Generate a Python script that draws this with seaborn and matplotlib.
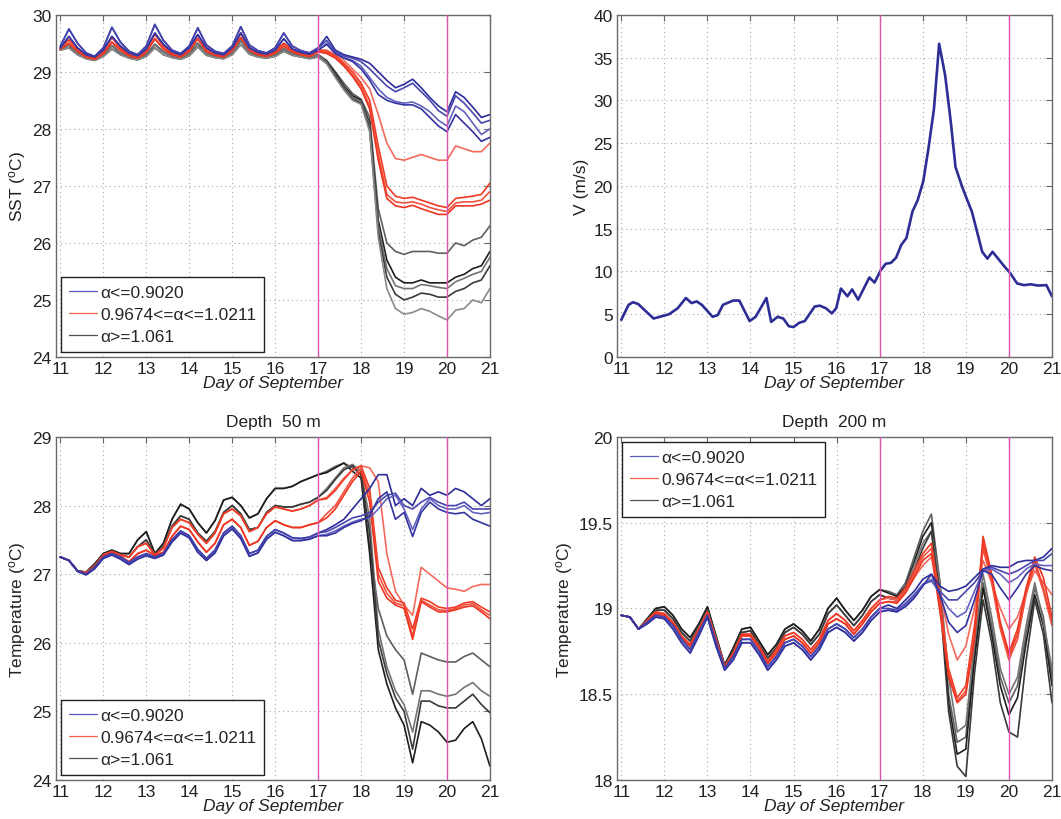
import numpy as np
import pandas as pd
import matplotlib
matplotlib.use("Agg")
import matplotlib.pyplot as plt
from matplotlib.lines import Line2D
from matplotlib.ticker import FuncFormatter
import seaborn as sns

# sample times (day of September): common part before the storm, members after
PRE_DAYS = np.linspace(11.0, 17.0, 31)
POST_DAYS = np.linspace(17.2, 21.0, 20)

LEGEND_LABELS = ["α<=0.9020", "0.9674<=α<=1.0211", "α>=1.061"]

# ---------------- SST ----------------
SST_BLUE_PRE_HI = [29.45, 29.75, 29.50, 29.33, 29.27, 29.42, 29.78, 29.52, 29.36, 29.30,
                   29.45, 29.83, 29.55, 29.38, 29.32, 29.45, 29.77, 29.47, 29.36, 29.32,
                   29.45, 29.79, 29.47, 29.37, 29.33, 29.42, 29.68, 29.45, 29.37, 29.33, 29.42]
SST_BLUE_PRE_LO = [29.42, 29.62, 29.42, 29.30, 29.26, 29.38, 29.62, 29.45, 29.33, 29.28,
                   29.40, 29.68, 29.48, 29.35, 29.30, 29.42, 29.65, 29.42, 29.33, 29.30,
                   29.42, 29.68, 29.42, 29.34, 29.31, 29.38, 29.58, 29.40, 29.34, 29.31, 29.38]
SST_RED_PRE_HI = [29.42, 29.56, 29.40, 29.28, 29.24, 29.35, 29.60, 29.42, 29.30, 29.26,
                  29.38, 29.66, 29.45, 29.32, 29.28, 29.40, 29.65, 29.40, 29.31, 29.28,
                  29.40, 29.68, 29.42, 29.32, 29.29, 29.36, 29.50, 29.38, 29.32, 29.29, 29.38]
SST_RED_PRE_LO = [29.40, 29.50, 29.36, 29.26, 29.22, 29.32, 29.52, 29.38, 29.28, 29.24,
                  29.34, 29.58, 29.40, 29.30, 29.26, 29.36, 29.58, 29.36, 29.29, 29.26,
                  29.37, 29.60, 29.38, 29.30, 29.27, 29.33, 29.45, 29.35, 29.30, 29.27, 29.35]
SST_BLACK_PRE_HI = [29.40, 29.47, 29.32, 29.25, 29.22, 29.30, 29.46, 29.33, 29.26, 29.23,
                    29.30, 29.48, 29.35, 29.28, 29.25, 29.32, 29.50, 29.32, 29.27, 29.25,
                    29.33, 29.55, 29.35, 29.28, 29.26, 29.30, 29.40, 29.32, 29.28, 29.25, 29.30]
SST_BLACK_PRE_LO = [29.38, 29.42, 29.30, 29.23, 29.20, 29.27, 29.40, 29.30, 29.24, 29.21,
                    29.27, 29.42, 29.30, 29.25, 29.22, 29.28, 29.44, 29.29, 29.25, 29.23,
                    29.30, 29.48, 29.31, 29.26, 29.24, 29.27, 29.36, 29.29, 29.26, 29.23, 29.26]
SST_BLUE_POST = [
    [29.62, 29.38, 29.30, 29.26, 29.22, 29.15, 29.00, 28.85, 28.72, 28.78,
     28.87, 28.72, 28.55, 28.40, 28.30, 28.65, 28.55, 28.38, 28.20, 28.25],
    [29.55, 29.35, 29.28, 29.24, 29.18, 29.05, 28.90, 28.75, 28.65, 28.72,
     28.80, 28.65, 28.50, 28.32, 28.22, 28.58, 28.45, 28.28, 28.10, 28.15],
    [29.50, 29.33, 29.25, 29.20, 29.10, 28.90, 28.70, 28.55, 28.48, 28.45,
     28.47, 28.40, 28.30, 28.15, 28.05, 28.40, 28.30, 28.10, 27.90, 28.00],
    [29.48, 29.32, 29.24, 29.18, 29.05, 28.85, 28.60, 28.50, 28.45, 28.42,
     28.42, 28.35, 28.20, 28.05, 27.95, 28.25, 28.10, 27.95, 27.78, 27.85],
]
SST_RED_POST = [
    [29.38, 29.30, 29.20, 29.05, 28.90, 28.70, 28.25, 27.75, 27.48, 27.45,
     27.50, 27.55, 27.50, 27.45, 27.45, 27.70, 27.65, 27.60, 27.60, 27.75],
    [29.36, 29.28, 29.15, 29.00, 28.80, 28.50, 27.70, 27.00, 26.82, 26.78,
     26.80, 26.75, 26.70, 26.65, 26.62, 26.78, 26.80, 26.82, 26.85, 27.05],
    [29.34, 29.25, 29.12, 28.95, 28.75, 28.40, 27.55, 26.85, 26.72, 26.70,
     26.72, 26.68, 26.62, 26.58, 26.55, 26.70, 26.72, 26.72, 26.75, 26.90],
    [29.32, 29.24, 29.10, 28.92, 28.70, 28.35, 27.45, 26.78, 26.65, 26.62,
     26.66, 26.60, 26.55, 26.50, 26.50, 26.65, 26.65, 26.65, 26.68, 26.75],
]
SST_BLACK_POST = [
    [29.20, 29.00, 28.80, 28.62, 28.52, 28.20, 26.60, 26.00, 25.85, 25.80,
     25.85, 25.85, 25.85, 25.82, 25.82, 26.00, 25.95, 26.05, 26.10, 26.30],
    [29.18, 28.98, 28.75, 28.58, 28.50, 28.10, 26.40, 25.70, 25.40, 25.30,
     25.30, 25.35, 25.30, 25.30, 25.30, 25.40, 25.45, 25.55, 25.60, 25.85],
    [29.17, 28.95, 28.72, 28.55, 28.48, 28.05, 26.30, 25.55, 25.25, 25.20,
     25.20, 25.27, 25.25, 25.22, 25.20, 25.32, 25.38, 25.45, 25.50, 25.75],
    [29.15, 28.93, 28.70, 28.52, 28.45, 28.00, 26.20, 25.40, 25.10, 25.00,
     25.05, 25.12, 25.10, 25.05, 25.05, 25.15, 25.20, 25.30, 25.35, 25.60],
    [29.14, 28.90, 28.68, 28.50, 28.43, 27.95, 26.10, 25.20, 24.85, 24.75,
     24.78, 24.85, 24.80, 24.72, 24.65, 24.82, 24.85, 25.00, 24.95, 25.20],
]

# ---------------- wind speed ----------------
V_DAYS = [11.0, 11.17, 11.27, 11.39, 11.75, 12.11, 12.31, 12.5, 12.63, 12.75, 12.87,
          13.12, 13.24, 13.36, 13.6, 13.74, 13.98, 14.12, 14.37, 14.48, 14.63, 14.76,
          14.89, 15.0, 15.13, 15.26, 15.49, 15.61, 15.75, 15.89, 15.99, 16.1, 16.25,
          16.36, 16.5, 16.76, 16.88, 17.02, 17.14, 17.26, 17.38, 17.5, 17.62, 17.76,
          17.88, 18.01, 18.13, 18.26, 18.38, 18.52, 18.65, 18.76, 18.9, 19.02, 19.14,
          19.38, 19.5, 19.62, 19.86, 20.03, 20.19, 20.35, 20.51, 20.67, 20.87, 21.0]
V_SPEED = [4.35, 6.1, 6.4, 6.2, 4.5, 5.0, 5.7, 6.9, 6.3, 6.5, 6.1,
           4.7, 4.9, 6.1, 6.6, 6.6, 4.2, 4.7, 6.9, 4.1, 4.7, 4.5,
           3.6, 3.5, 4.0, 4.2, 5.9, 6.0, 5.7, 5.1, 5.7, 8.0, 7.1,
           7.9, 6.7, 9.3, 8.7, 10.1, 10.9, 11.0, 11.6, 13.1, 13.9, 17.0,
           18.3, 20.5, 24.3, 29.0, 36.6, 32.9, 27.5, 22.2, 20.1, 18.5, 17.0,
           12.3, 11.5, 12.3, 10.8, 9.8, 8.6, 8.4, 8.5, 8.35, 8.4, 7.1]

# ---------------- 50 m ----------------
M50_BLUE_PRE_HI = [27.25, 27.20, 27.05, 27.00, 27.10, 27.25, 27.30, 27.25, 27.17, 27.25,
                   27.30, 27.25, 27.30, 27.50, 27.63, 27.56, 27.36, 27.23, 27.35, 27.60,
                   27.70, 27.56, 27.30, 27.35, 27.55, 27.65, 27.60, 27.53, 27.52, 27.54, 27.60]
M50_BLUE_PRE_LO = [27.25, 27.20, 27.04, 26.99, 27.08, 27.23, 27.28, 27.22, 27.14, 27.22,
                   27.27, 27.23, 27.28, 27.47, 27.60, 27.53, 27.32, 27.20, 27.31, 27.56,
                   27.66, 27.52, 27.26, 27.31, 27.51, 27.61, 27.56, 27.49, 27.49, 27.51, 27.56]
M50_RED_PRE_HI = [27.25, 27.20, 27.05, 27.02, 27.12, 27.28, 27.33, 27.28, 27.25, 27.40,
                  27.45, 27.28, 27.38, 27.68, 27.80, 27.75, 27.58, 27.45, 27.60, 27.88,
                  27.95, 27.85, 27.62, 27.68, 27.88, 27.98, 27.95, 27.92, 27.95, 28.00, 28.08]
M50_RED_PRE_LO = [27.25, 27.20, 27.05, 27.00, 27.10, 27.26, 27.30, 27.26, 27.18, 27.30,
                  27.35, 27.27, 27.32, 27.55, 27.70, 27.65, 27.47, 27.32, 27.45, 27.72,
                  27.80, 27.68, 27.42, 27.48, 27.68, 27.78, 27.72, 27.68, 27.68, 27.72, 27.75]
M50_BLACK_PRE_HI = [27.25, 27.20, 27.05, 27.03, 27.15, 27.30, 27.35, 27.30, 27.30, 27.50,
                    27.62, 27.30, 27.45, 27.80, 28.02, 27.95, 27.75, 27.60, 27.78, 28.08,
                    28.12, 28.00, 27.82, 27.88, 28.10, 28.25, 28.25, 28.28, 28.35, 28.40, 28.45]
M50_BLACK_PRE_LO = [27.25, 27.20, 27.05, 27.02, 27.12, 27.28, 27.33, 27.28, 27.25, 27.40,
                    27.50, 27.28, 27.40, 27.70, 27.85, 27.80, 27.60, 27.48, 27.62, 27.90,
                    28.00, 27.88, 27.65, 27.68, 27.90, 28.00, 27.98, 27.98, 28.02, 28.05, 28.12]
M50_BLUE_POST = [
    [27.65, 27.72, 27.80, 27.95, 28.10, 28.25, 28.45, 28.45, 28.00, 28.10,
     28.00, 28.25, 28.15, 28.20, 28.15, 28.25, 28.20, 28.10, 28.00, 28.10],
    [27.62, 27.68, 27.75, 27.82, 27.85, 27.90, 28.05, 28.15, 28.18, 28.00,
     27.95, 28.05, 28.12, 28.05, 28.00, 28.00, 28.05, 27.95, 27.95, 27.95],
    [27.58, 27.63, 27.70, 27.76, 27.80, 27.82, 27.95, 28.10, 28.15, 27.95,
     27.65, 27.95, 28.10, 28.00, 27.95, 27.95, 28.00, 27.90, 27.88, 27.90],
    [27.56, 27.60, 27.68, 27.74, 27.78, 27.85, 28.10, 28.20, 27.80, 27.90,
     27.55, 27.90, 28.05, 27.95, 27.90, 27.88, 27.90, 27.80, 27.75, 27.70],
]
M50_RED_POST = [
    [28.12, 28.25, 28.40, 28.52, 28.58, 28.55, 28.35, 27.30, 26.75, 26.55,
     26.40, 27.10, 27.00, 26.90, 26.80, 26.78, 26.75, 26.82, 26.85, 26.85],
    [28.10, 28.22, 28.38, 28.52, 28.58, 28.25, 27.10, 26.80, 26.62, 26.58,
     26.20, 26.65, 26.60, 26.52, 26.50, 26.52, 26.58, 26.60, 26.52, 26.45],
    [27.88, 28.00, 28.20, 28.40, 28.55, 28.15, 27.00, 26.72, 26.58, 26.54,
     26.10, 26.62, 26.55, 26.48, 26.47, 26.50, 26.55, 26.57, 26.48, 26.40],
    [27.82, 27.95, 28.15, 28.35, 28.50, 28.05, 26.90, 26.65, 26.55, 26.50,
     26.05, 26.60, 26.52, 26.45, 26.45, 26.48, 26.52, 26.54, 26.45, 26.35],
]
M50_BLACK_POST = [
    [28.50, 28.57, 28.62, 28.55, 28.45, 27.40, 26.50, 26.10, 25.90, 25.75,
     25.25, 25.85, 25.80, 25.75, 25.72, 25.72, 25.80, 25.85, 25.75, 25.65],
    [28.48, 28.55, 28.62, 28.50, 28.40, 27.30, 25.90, 25.40, 25.05, 24.80,
     24.25, 24.85, 24.80, 24.70, 24.55, 24.58, 24.75, 24.85, 24.60, 24.20],
    [28.25, 28.40, 28.55, 28.60, 28.50, 27.80, 26.20, 25.65, 25.30, 25.10,
     24.70, 25.30, 25.30, 25.25, 25.22, 25.25, 25.35, 25.42, 25.30, 25.22],
    [28.22, 28.38, 28.52, 28.58, 28.45, 27.60, 26.05, 25.55, 25.20, 25.00,
     24.45, 25.15, 25.15, 25.08, 25.05, 25.05, 25.15, 25.25, 25.10, 24.98],
]

# ---------------- 200 m ----------------
M200_BLUE_PRE_HI = [18.96, 18.95, 18.88, 18.92, 18.96, 18.95, 18.90, 18.82, 18.76, 18.86,
                    18.96, 18.80, 18.65, 18.72, 18.82, 18.82, 18.75, 18.66, 18.72, 18.80,
                    18.82, 18.78, 18.72, 18.78, 18.88, 18.91, 18.88, 18.83, 18.88, 18.95, 19.00]
M200_BLUE_PRE_LO = [18.96, 18.95, 18.88, 18.91, 18.95, 18.94, 18.88, 18.80, 18.74, 18.84,
                    18.95, 18.78, 18.64, 18.70, 18.80, 18.80, 18.73, 18.64, 18.70, 18.78,
                    18.80, 18.76, 18.70, 18.76, 18.86, 18.89, 18.86, 18.81, 18.86, 18.93, 18.98]
M200_RED_PRE_HI = [18.96, 18.95, 18.88, 18.93, 18.98, 18.97, 18.92, 18.84, 18.79, 18.88,
                   18.98, 18.82, 18.66, 18.74, 18.85, 18.85, 18.78, 18.69, 18.76, 18.84,
                   18.86, 18.82, 18.76, 18.82, 18.93, 18.97, 18.93, 18.87, 18.93, 19.00, 19.05]
M200_RED_PRE_LO = [18.96, 18.95, 18.88, 18.92, 18.97, 18.96, 18.91, 18.83, 18.78, 18.87,
                   18.97, 18.81, 18.65, 18.73, 18.84, 18.84, 18.77, 18.68, 18.74, 18.82,
                   18.84, 18.80, 18.74, 18.80, 18.91, 18.94, 18.91, 18.85, 18.91, 18.98, 19.03]
M200_BLACK_PRE_HI = [18.96, 18.95, 18.88, 18.94, 19.00, 19.01, 18.96, 18.88, 18.83, 18.91,
                     19.01, 18.84, 18.67, 18.77, 18.88, 18.89, 18.81, 18.73, 18.79, 18.88,
                     18.91, 18.87, 18.81, 18.88, 19.00, 19.06, 18.99, 18.93, 18.99, 19.07, 19.11]
M200_BLACK_PRE_LO = [18.96, 18.95, 18.88, 18.93, 18.99, 18.99, 18.94, 18.86, 18.81, 18.89,
                     18.99, 18.83, 18.66, 18.75, 18.86, 18.87, 18.79, 18.71, 18.77, 18.86,
                     18.89, 18.85, 18.79, 18.85, 18.97, 19.02, 18.96, 18.90, 18.96, 19.04, 19.08]
M200_BLUE_POST = [
    [19.02, 19.00, 19.05, 19.10, 19.17, 19.20, 19.13, 19.10, 19.11, 19.13,
     19.18, 19.23, 19.25, 19.24, 19.24, 19.27, 19.28, 19.28, 19.30, 19.35],
    [19.00, 18.99, 19.03, 19.08, 19.14, 19.16, 19.10, 19.05, 19.05, 19.10,
     19.15, 19.22, 19.24, 19.22, 19.20, 19.22, 19.25, 19.28, 19.28, 19.32],
    [18.99, 18.98, 19.02, 19.07, 19.14, 19.17, 19.08, 19.00, 18.95, 18.98,
     19.10, 19.22, 19.23, 19.20, 19.15, 19.18, 19.23, 19.26, 19.25, 19.25],
    [18.99, 18.98, 19.01, 19.06, 19.13, 19.20, 19.08, 18.92, 18.86, 18.90,
     19.05, 19.22, 19.20, 19.12, 19.05, 19.12, 19.20, 19.25, 19.23, 19.22],
]
M200_RED_POST = [
    [19.06, 19.05, 19.10, 19.18, 19.25, 19.30, 19.10, 18.85, 18.70, 18.78,
     19.00, 19.28, 19.15, 19.00, 18.88, 18.95, 19.10, 19.22, 19.15, 19.08],
    [19.07, 19.06, 19.12, 19.22, 19.32, 19.38, 19.05, 18.65, 18.48, 18.55,
     18.90, 19.38, 19.18, 18.90, 18.72, 18.85, 19.10, 19.28, 19.12, 18.92],
    [19.04, 19.04, 19.10, 19.20, 19.30, 19.35, 19.00, 18.62, 18.46, 18.52,
     18.85, 19.35, 19.15, 18.88, 18.70, 18.82, 19.08, 19.26, 19.10, 18.90],
    [19.04, 19.03, 19.09, 19.18, 19.28, 19.32, 18.98, 18.60, 18.45, 18.50,
     18.82, 19.42, 19.20, 18.92, 18.74, 18.88, 19.12, 19.30, 19.18, 18.95],
]
M200_BLACK_POST = [
    [19.10, 19.08, 19.15, 19.30, 19.45, 19.55, 19.15, 18.50, 18.22, 18.25,
     18.75, 19.15, 18.90, 18.60, 18.45, 18.55, 18.85, 19.12, 18.95, 18.60],
    [19.09, 19.07, 19.13, 19.27, 19.42, 19.50, 19.10, 18.45, 18.15, 18.18,
     18.70, 19.12, 18.85, 18.55, 18.38, 18.48, 18.80, 19.08, 18.90, 18.55],
    [19.06, 19.05, 19.12, 19.25, 19.38, 19.45, 19.15, 18.60, 18.28, 18.32,
     18.80, 19.20, 18.95, 18.65, 18.50, 18.60, 18.90, 19.15, 18.92, 18.65],
    [19.06, 19.05, 19.10, 19.22, 19.35, 19.45, 19.05, 18.40, 18.08, 18.02,
     18.62, 19.05, 18.80, 18.45, 18.28, 18.25, 18.70, 19.05, 18.85, 18.45],
]

SHADES = {
    "blue": ["#2c2c9a", "#4646ad", "#6262c0", "#33339f"],
    "red": ["#f46a5c", "#f03a24", "#f2523e", "#ee3520"],
    "black": ["#5e5e5e", "#1e1e1e", "#747474", "#3a3a3a", "#8a8a8a"],
}
LEGEND_COLORS = ["#5a5ac0", "#f26050", "#505050"]
VLINE_COLOR = "#dd55ad"
FS = 12.5


def build_frame(groups):
    days = np.concatenate([PRE_DAYS, POST_DAYS])
    frames = []
    for name, pre_hi, pre_lo, members in groups:
        n_hi = (len(members) + 1) // 2
        for i, post in enumerate(members):
            pre = pre_hi if i < n_hi else pre_lo
            frames.append(pd.DataFrame({
                "day": days,
                "value": np.concatenate([pre, post]),
                "member": f"{name}{i}",
            }))
    return pd.concat(frames, ignore_index=True)


def member_palette(df):
    pal = {}
    for m in df["member"].unique():
        name = m.rstrip("0123456789")
        idx = int(m[len(name):])
        pal[m] = SHADES[name][idx % len(SHADES[name])]
    return pal


def style_axes(ax, ylim, yticks, ylabel):
    ax.set_xlim(10.9, 21)
    ax.set_ylim(*ylim)
    ax.set_xticks(range(11, 22))
    ax.set_yticks(yticks)
    ax.yaxis.set_major_formatter(FuncFormatter(lambda v, p: f"{v:g}"))
    ax.grid(True, linestyle=(0, (1, 3)), color="#a8a8a8", linewidth=0.8)
    ax.tick_params(direction="in", top=True, right=True, length=4, width=0.8,
                   color="#666666", labelcolor="#222222", labelsize=FS, pad=3)
    for s in ax.spines.values():
        s.set_color("#6a6a6a")
        s.set_linewidth(1.0)
    ax.set_xlabel("Day of September", style="italic", fontsize=FS, labelpad=-1, color="#222222")
    ax.set_ylabel(ylabel, fontsize=FS, color="#222222", labelpad=3)
    for d in (17, 20):
        ax.axvline(d, color=VLINE_COLOR, lw=1.0, zorder=5)


def ensemble(ax, groups):
    df = build_frame(groups)
    sns.lineplot(data=df, x="day", y="value", hue="member", palette=member_palette(df),
                 estimator=None, sort=False, legend=False, lw=1.2, ax=ax)


def add_legend(ax, loc):
    handles = [Line2D([], [], color=c, lw=0.9) for c in LEGEND_COLORS]
    leg = ax.legend(handles, LEGEND_LABELS, loc=loc, fontsize=FS, fancybox=False,
                    framealpha=1, edgecolor="#222222", handlelength=1.6,
                    handletextpad=0.2, labelspacing=0.4, borderaxespad=0.3,
                    borderpad=0.45)
    leg.get_frame().set_linewidth(1.0)
    leg.set_zorder(10)


sns.set_theme(style="white")
plt.rcParams["font.family"] = ["Liberation Sans", "DejaVu Sans"]
plt.rcParams["mathtext.fontset"] = "custom"
plt.rcParams["mathtext.rm"] = "Liberation Sans"
plt.rcParams["mathtext.it"] = "Liberation Sans:italic"

fig = plt.figure(figsize=(10.61, 8.2), dpi=100)
ax_sst = fig.add_axes([0.0528, 0.5634, 0.409, 0.4174])
ax_v = fig.add_axes([0.5815, 0.5634, 0.410, 0.4174])
ax_50 = fig.add_axes([0.0528, 0.0476, 0.409, 0.4183])
ax_200 = fig.add_axes([0.5815, 0.0476, 0.410, 0.4183])

# SST
ensemble(ax_sst, [
    ("black", SST_BLACK_PRE_HI, SST_BLACK_PRE_LO, SST_BLACK_POST),
    ("red", SST_RED_PRE_HI, SST_RED_PRE_LO, SST_RED_POST),
    ("blue", SST_BLUE_PRE_HI, SST_BLUE_PRE_LO, SST_BLUE_POST),
])
style_axes(ax_sst, (24, 30), range(24, 31), r"SST ($^{\mathrm{o}}$C)")
add_legend(ax_sst, "lower left")

# wind speed
sns.lineplot(x=V_DAYS, y=V_SPEED, color="#2d2d96", lw=1.9, estimator=None, sort=False, ax=ax_v)
style_axes(ax_v, (0, 40), range(0, 41, 5), "V (m/s)")

# 50 m
ensemble(ax_50, [
    ("black", M50_BLACK_PRE_HI, M50_BLACK_PRE_LO, M50_BLACK_POST),
    ("red", M50_RED_PRE_HI, M50_RED_PRE_LO, M50_RED_POST),
    ("blue", M50_BLUE_PRE_HI, M50_BLUE_PRE_LO, M50_BLUE_POST),
])
style_axes(ax_50, (24, 29), range(24, 30), r"Temperature ($^{\mathrm{o}}$C)")
ax_50.set_title("Depth  50 m", fontsize=FS, pad=8, color="#222222")
add_legend(ax_50, "lower left")

# 200 m
ensemble(ax_200, [
    ("black", M200_BLACK_PRE_HI, M200_BLACK_PRE_LO, M200_BLACK_POST),
    ("red", M200_RED_PRE_HI, M200_RED_PRE_LO, M200_RED_POST),
    ("blue", M200_BLUE_PRE_HI, M200_BLUE_PRE_LO, M200_BLUE_POST),
])
style_axes(ax_200, (18, 20), [18, 18.5, 19, 19.5, 20], r"Temperature ($^{\mathrm{o}}$C)")
ax_200.set_title("Depth  200 m", fontsize=FS, pad=8, color="#222222")
add_legend(ax_200, "upper left")

fig.savefig("out.png", dpi=100)
